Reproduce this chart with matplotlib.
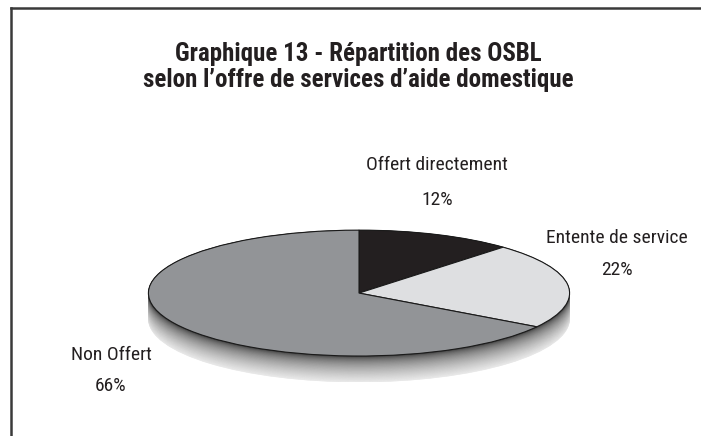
import matplotlib
matplotlib.use('Agg')
import matplotlib.pyplot as plt
from matplotlib.patches import Ellipse
from matplotlib.lines import Line2D
from matplotlib import font_manager as fm

labels = ['Offert directement', 'Entente de service', 'Non Offert']
shares = [12, 22, 66]
colors = ['#231f20', '#dedfe1', '#929497']
title = 'Graphique 13 - Répartition des OSBL\nselon l\u2019offre de services d\u2019aide domestique'

W, H = 701, 436
fig = plt.figure(figsize=(W / 100, H / 100), dpi=100)


def fx(x):
    return x / W


def fy(y):
    return 1 - y / H


def is_condensed(f):
    s = (f.name + ' ' + f.fname).lower()
    return ('narrow' in s or 'condensed' in s or f.stretch in ('condensed', 'semi-condensed', 'extra-condensed')) \
        and 'italic' not in s and f.style == 'normal'


def pick(bold):
    cands = [f for f in fm.fontManager.ttflist if is_condensed(f)]
    if bold:
        cands = [f for f in cands if f.weight in ('bold', 700, 'semibold', 600)]
    else:
        cands = [f for f in cands if f.weight in ('normal', 400, 'regular', 'light', 300, 'book')]
    if not cands:
        return None
    order = ['liberation', 'roboto', 'open', 'dejavu', 'noto']
    def rank(f):
        s = f.fname.lower()
        for k, o in enumerate(order):
            if o in s:
                return k
        return 99
    cands.sort(key=rank)
    return fm.FontProperties(fname=cands[0].fname)


fp_title = pick(True) or fm.FontProperties(family='DejaVu Sans', weight='bold')
fp_lab = pick(False) or fm.FontProperties(family='DejaVu Sans')

# cropped frame (top and left only)
fig.add_artist(Line2D([fx(11), 1], [fy(8.5), fy(8.5)], color='#3a3a3a', lw=1.8))
fig.add_artist(Line2D([fx(11), fx(11)], [fy(8.5), 0], color='#3a3a3a', lw=1.8))

fp_title.set_size(18)
fig.text(fx(358), fy(67), title, ha='center', va='center', fontproperties=fp_title,
         color='#231f20', linespacing=1.15)

# pie: ellipse centre, semi-axes and side depth in pixels
cx, cy, a, b, depth = 359, 293, 211, 63, 26
ax = fig.add_axes([fx(cx - a), fy(cy + b + depth), 2 * a / W, (2 * b + depth) / H])

# side / shadow made of stacked ellipses fading to white
n = 45
for i in range(n - 1, -1, -1):
    t = i / (n - 1)
    g = 0.25 + 0.75 * t ** 0.5
    ax.add_patch(Ellipse((0, -t * depth / b), 2, 2, facecolor=str(g),
                         edgecolor=str(max(g - 0.12, 0)), lw=0.4, zorder=1))

wedges, _ = ax.pie(shares, colors=colors, startangle=90, counterclock=False,
                   wedgeprops=dict(edgecolor='#1a1a1a', linewidth=0.8))
for w in wedges:
    w.set_zorder(3)
ax.set_aspect('auto')
ax.set_xlim(-1.002, 1.002)
ax.set_ylim(-1 - depth / b, 1.002)
ax.axis('off')

# slice labels
fp_lab.set_size(14)
label_pos = [(437, 165, 200), (617, 238, 270), (111, 355, 386)]
for lab, val, (x, y1, y2) in zip(labels, shares, label_pos):
    fig.text(fx(x), fy(y1), lab, ha='center', va='center', fontproperties=fp_lab,
             color='#231f20')
    fig.text(fx(x), fy(y2), f'{val}%', ha='center', va='center', fontproperties=fp_lab,
             color='#231f20')

fig.savefig('out.png', dpi=100)
